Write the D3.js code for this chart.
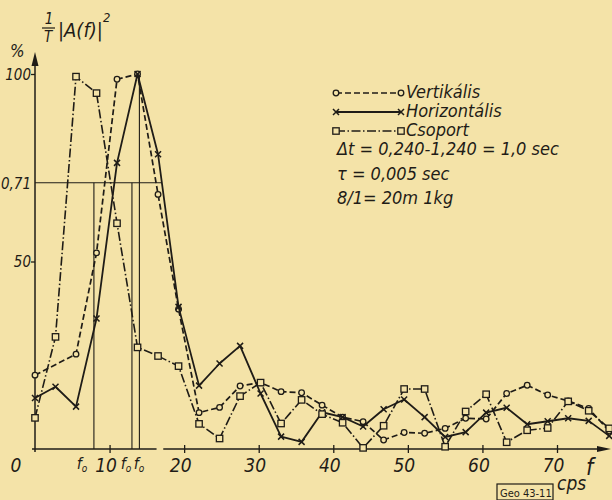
<!DOCTYPE html>
<html>
<head>
<meta charset="utf-8">
<script src="https://cdn.jsdelivr.net/npm/d3@7"></script>
<style>
  html, body { margin: 0; padding: 0; background: #f4e3a8; }
  svg { display: block; }
  text { font-family: "DejaVu Sans Condensed", "DejaVu Sans", sans-serif; font-style: italic; font-stretch: condensed; fill: #1f1c17; }
</style>
</head>
<body>
<svg id="chart" width="612" height="500"></svg>
<script>
// ---- data ----
const freq = [0, 2.75, 5.5, 8.25, 11, 13.75, 16.5, 19.25, 22, 24.75, 27.5, 30.25, 33, 35.75,
              38.5, 41.25, 44, 46.75, 49.5, 52.25, 55, 57.75, 60.5, 63.25, 66, 68.75, 71.5, 74.25, 77];
const vertikalis = [19.7, null, 25.3, 52.3, 98.6, 100, 67.9, 37.3, 9.7, 11.1, 16.8, 17.7, 15.3, 15.0,
                    11.7, 8.5, 7.3, 2.4, 4.4, 4.2, 5.5, 8.2, 8.0, 14.8, 17.0, 14.4, 12.8, 10.8, 4.8];
const horizontalis = [13.6, 16.6, 11.3, 34.8, 76.3, 100, 78.6, 37.9, 16.9, 22.8, 27.5, 14.8, 3.3, 1.9,
                      9.8, 8.5, 6.0, 10.6, 13.2, 8.5, 3.2, 4.5, 9.7, 11.0, 6.6, 7.4, 8.2, 7.5, 3.5];
const csoport = [8.3, 29.9, 99.3, 94.9, 60.2, 27.1, 24.8, 22.1, 6.7, 2.8, 14.1, 17.7, 6.8, 13.1,
                 9.3, 7.0, 0.3, 6.2, 16.0, 16.0, 0.6, 10.0, 14.6, 1.8, 5.0, 5.6, 12.7, 10.2, 5.5];
const seriesNames = ["Vertikális", "Horizontális", "Csoport"];
const xTicks = [10, 20, 30, 40, 50, 60, 70];
const yTickValues = [100, 71, 50];
const yTickLabels = ["100", "0,71", "50"];
const f0Lines = [7.9, 13.0, 14.0];       // vertical f0 markers
const f0Tops = [71, 71, 100];
const infoLines = ["\u0394t = 0,240-1,240 = 1,0 sec", "\u03C4 = 0,005 sec", "8/1= 20m  1kg"];

// ---- scales ----
const ink = "#1f1c17", paper = "#f4e3a8";
const x = d3.scaleLinear().domain([0, 70]).range([35, 557]);
const y = d3.scaleLinear().domain([0, 100]).range([449, 74]);
const svg = d3.select("#chart");

svg.append("rect").attr("width", 612).attr("height", 500).attr("fill", paper);

// ---- axes ----
const g = svg.append("g").attr("stroke", ink).attr("fill", "none");
// y axis with arrow
g.append("line").attr("x1", x(0)).attr("x2", x(0)).attr("y1", y(0) + 3).attr("y2", 58).attr("stroke-width", 1.5);
svg.append("path").attr("d", `M${x(0)},52 L${x(0) - 3.5},66 L${x(0) + 3.5},66 Z`).attr("fill", ink);
// x axis (two segments) with arrow
g.append("line").attr("x1", x(-0.4)).attr("x2", x(16.3)).attr("y1", y(0)).attr("y2", y(0)).attr("stroke-width", 1.5);
g.append("line").attr("x1", x(17.2)).attr("x2", 600).attr("y1", y(0)).attr("y2", y(0)).attr("stroke-width", 1.5);
svg.append("path").attr("d", `M611,${y(0)} L597,${y(0) - 3} L597,${y(0) + 3} Z`).attr("fill", ink);

// x ticks and labels
const xAxis = d3.axisBottom(x).tickValues(xTicks).tickSize(0).tickFormat(d3.format("d"));
const xg = svg.append("g").attr("transform", `translate(0,${y(0)})`).call(xAxis);
xg.select(".domain").remove();
xg.selectAll(".tick").append("line").attr("y1", -4).attr("y2", 4).attr("stroke", ink).attr("stroke-width", 1.3);
xg.selectAll(".tick text").attr("dy", null).attr("y", 23).attr("x", -4)
  .style("font-size", "19px").attr("fill", ink).style("font-family", null);

// y ticks and labels
const yAxis = d3.axisLeft(y).tickValues(yTickValues).tickSize(0).tickFormat((d, i) => yTickLabels[i]);
const yg = svg.append("g").attr("transform", `translate(${x(0)},0)`).call(yAxis);
yg.select(".domain").remove();
yg.selectAll(".tick").filter(d => d !== 71).append("line").attr("x1", -4).attr("x2", 0).attr("stroke", ink).attr("stroke-width", 1.3);
yg.selectAll(".tick text").attr("x", -4).attr("dy", "0.35em").style("font-size", "15px").attr("fill", ink).style("font-family", null);

svg.append("text").attr("x", 16).attr("y", 472).attr("text-anchor", "middle").style("font-size", "19px").text("0");

// f0 labels
const f0Lab = [{px: 82}, {px: 126}, {px: 139}];
f0Lab.forEach(o => {
  const t = svg.append("text").attr("x", o.px).attr("y", 469).attr("text-anchor", "middle").style("font-size", "16px");
  t.append("tspan").text("f");
  t.append("tspan").attr("dy", 3).style("font-size", "10px").text("o");
});

// reference lines
g.append("line").attr("x1", x(0)).attr("x2", x(17)).attr("y1", y(71)).attr("y2", y(71)).attr("stroke-width", 1.1);
f0Lines.forEach((f, i) => {
  g.append("line").attr("x1", x(f)).attr("x2", x(f)).attr("y1", y(f0Tops[i])).attr("y2", y(0)).attr("stroke-width", 1.1);
});

// ---- title ----
svg.append("text").attr("x", 49).attr("y", 24).attr("text-anchor", "middle").style("font-size", "15px").text("1");
svg.append("line").attr("x1", 42).attr("x2", 55).attr("y1", 28).attr("y2", 28).attr("stroke", ink).attr("stroke-width", 1.2);
svg.append("text").attr("x", 48).attr("y", 42).attr("text-anchor", "middle").style("font-size", "15px").text("T");
svg.append("text").attr("x", 58).attr("y", 37).style("font-size", "20px").text("|A(f)|");
svg.append("text").attr("x", 103).attr("y", 22).style("font-size", "13px").text("2");
svg.append("text").attr("x", 10).attr("y", 57).style("font-size", "17px").text("%");

// axis unit labels
svg.append("text").attr("x", 586).attr("y", 475).style("font-size", "23px").text("f");
svg.append("text").attr("x", 557).attr("y", 490).style("font-size", "19px").text("cps");
svg.append("rect").attr("x", 497).attr("y", 484).attr("width", 56).attr("height", 16).attr("fill", "none").attr("stroke", ink).attr("stroke-width", 1.2);
svg.append("text").attr("x", 500).attr("y", 497).style("font-size", "11px").style("font-style", "normal").text("Geo 43-11");

// ---- series ----
const styles = [
  {vals: vertikalis, dash: "6,3", width: 1.7, marker: "circle"},
  {vals: horizontalis, dash: null, width: 1.8, marker: "x"},
  {vals: csoport, dash: "9,2.5,1.5,2.5", width: 1.6, marker: "square"}
];
const line = d3.line().defined(d => d.v != null).x(d => x(d.f)).y(d => y(d.v));

function drawMarker(sel, type, cx, cy) {
  if (type === "circle") {
    sel.append("circle").attr("cx", cx).attr("cy", cy).attr("r", 2.8)
      .attr("fill", paper).attr("stroke", ink).attr("stroke-width", 1.3);
  } else if (type === "square") {
    sel.append("rect").attr("x", cx - 3.2).attr("y", cy - 3.2).attr("width", 6.4).attr("height", 6.4)
      .attr("fill", paper).attr("stroke", ink).attr("stroke-width", 1.3);
  } else {
    sel.append("path").attr("d", `M${cx - 3},${cy - 3}L${cx + 3},${cy + 3}M${cx - 3},${cy + 3}L${cx + 3},${cy - 3}`)
      .attr("stroke", ink).attr("stroke-width", 1.5).attr("fill", "none");
  }
}

styles.forEach(s => {
  const data = freq.map((f, i) => ({f, v: s.vals[i]}));
  const pathData = data.filter(d => d.v != null);
  svg.append("path").datum(pathData).attr("d", line).attr("fill", "none").attr("stroke", ink)
    .attr("stroke-width", s.width).attr("stroke-dasharray", s.dash).attr("stroke-linejoin", "round");
  const mg = svg.append("g");
  pathData.forEach(d => drawMarker(mg, s.marker, x(d.f), y(d.v)));
});

// ---- legend ----
const legY = [93, 112, 131];
const textY = [98, 117, 136];
styles.forEach((s, i) => {
  svg.append("line").attr("x1", 336).attr("x2", 401).attr("y1", legY[i]).attr("y2", legY[i])
    .attr("stroke", ink).attr("stroke-width", s.width).attr("stroke-dasharray", s.dash);
  const mg = svg.append("g");
  drawMarker(mg, s.marker, 336, legY[i]);
  drawMarker(mg, s.marker, 401, legY[i]);
  svg.append("text").attr("x", 406).attr("y", textY[i]).style("font-size", "18px").text(seriesNames[i]);
});
const infoY = [155, 180, 204];
infoLines.forEach((t, i) => {
  svg.append("text").attr("x", 337).attr("y", infoY[i]).style("font-size", "18px").text(t);
});
</script>
</body>
</html>
